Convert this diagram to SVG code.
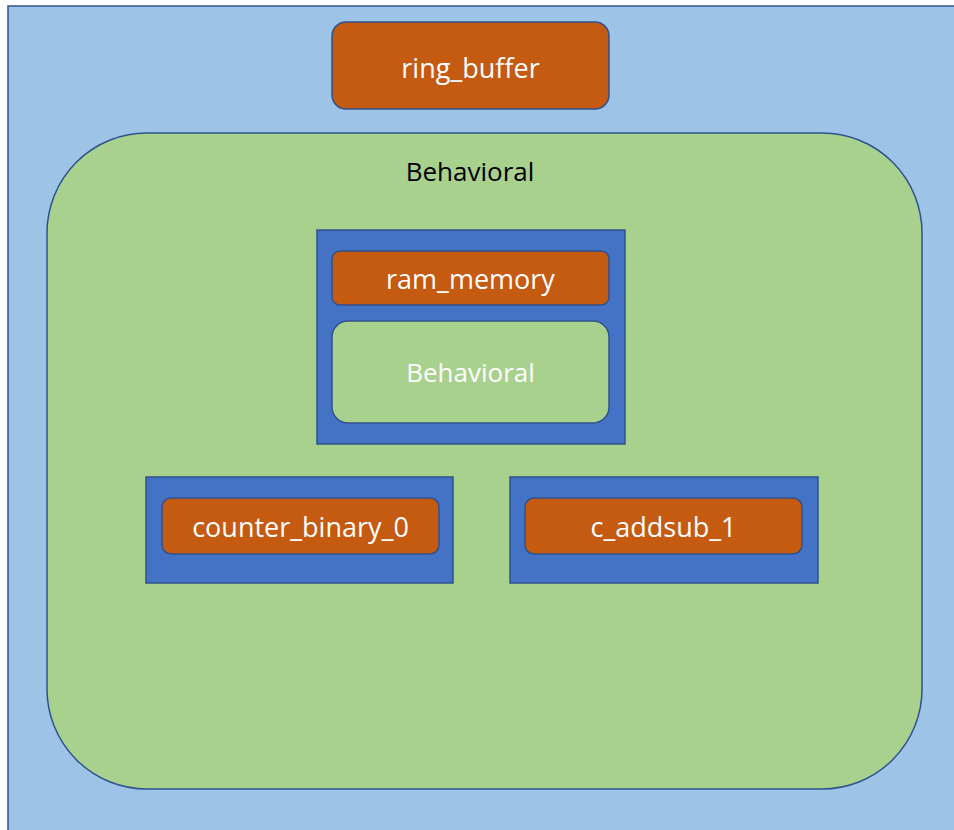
<svg xmlns="http://www.w3.org/2000/svg" width="954" height="830" viewBox="0 0 954 830">
<style>
.bg{fill:#9DC3E6;stroke:#2F528F;stroke-width:1.5}
.grn{fill:#A9D18E;stroke:#2F528F;stroke-width:1.5}
.blu{fill:#4472C4;stroke:#2F528F;stroke-width:1.5}
.org{fill:#C55A11;stroke:#2F528F;stroke-width:1.5}
text{font-family:"Open Sans","Liberation Sans",sans-serif;text-anchor:middle;dominant-baseline:central}
.w{fill:#FFFFFF;font-size:27px}
.b{font-size:26px}
.k{fill:#000000;font-size:26px}
</style>
<rect class="bg" x="8" y="6" width="960" height="840"/>
<g id="ring_buffer">
<rect class="org" x="332" y="22" width="277" height="87" rx="14"/>
<text class="w" x="470.5" y="67">ring_buffer</text>
</g>
<g id="behavioral_top">
<rect class="grn" x="47" y="133" width="875" height="656" rx="100" ry="100"/>
<text class="k" x="470" y="171">Behavioral</text>
</g>
<g id="ram_memory_block">
<rect class="blu" x="317" y="230" width="308" height="214"/>
<g id="ram_memory">
<rect class="org" x="332" y="251" width="277" height="54" rx="8"/>
<text class="w" x="470.5" y="278">ram_memory</text>
</g>
<g id="ram_behavioral">
<rect class="grn" x="332" y="321" width="277" height="102" rx="16"/>
<text class="w b" x="470.5" y="372">Behavioral</text>
</g>
</g>
<g id="counter_binary_0_block">
<rect class="blu" x="146" y="477" width="307" height="106"/>
<g id="counter_binary_0">
<rect class="org" x="162" y="498" width="277" height="56" rx="9"/>
<text class="w" x="300.5" y="526">counter_binary_0</text>
</g>
</g>
<g id="c_addsub_1_block">
<rect class="blu" x="510" y="477" width="308" height="106"/>
<g id="c_addsub_1">
<rect class="org" x="525" y="498" width="277" height="56" rx="9"/>
<text class="w" x="663.5" y="526">c_addsub_1</text>
</g>
</g>
<g id="connectors"></g>
</svg>
